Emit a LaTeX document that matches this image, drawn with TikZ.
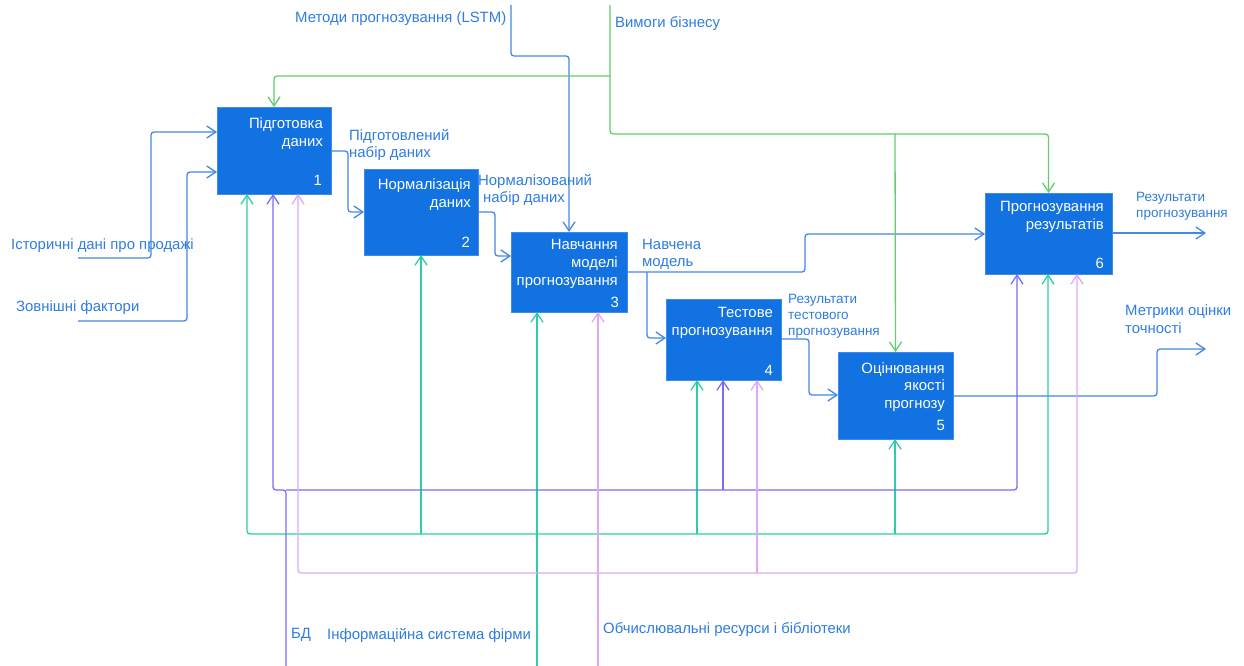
\documentclass[tikz,border=0pt]{standalone}
\usepackage{fontspec}
\setmainfont{Liberation Sans}
\usetikzlibrary{arrows.meta}
\definecolor{boxfill}{HTML}{1272E2}
\definecolor{boxline}{HTML}{3D8CEB}
\definecolor{conblue}{HTML}{4388E6}
\definecolor{txtblue}{HTML}{2F7DE1}
\definecolor{cgreen}{HTML}{63CC70}
\definecolor{cteal}{HTML}{2ECDA7}
\definecolor{cpurple}{HTML}{7C6DF6}
\definecolor{cpink}{HTML}{E0A8F8}
\begin{document}
\begin{tikzpicture}[x=1pt,y=-1pt,
  proc/.style={fill=boxfill, draw=boxline, line width=0.8pt, inner sep=0pt, outer sep=0pt, anchor=north west},
  ptext/.style={text=white, align=right, inner sep=0pt, anchor=north east, font=\fontsize{14.9}{17.8}\selectfont},
  pnum/.style={text=white, inner sep=0pt, anchor=east, font=\fontsize{14.9}{18}\selectfont},
  lab/.style={text=txtblue, align=left, inner sep=0pt, anchor=north west, font=\fontsize{14.9}{17.5}\selectfont},
  slab/.style={text=txtblue, align=left, inner sep=0pt, anchor=north west, font=\fontsize{13.5}{16}\selectfont},
  conn/.style={line width=1.3pt, rounded corners=3pt, -{Straight Barb[length=9pt,width=12pt]}},
  cb/.style={conn, draw=conblue},
  cg/.style={conn, draw=cgreen},
  ct/.style={conn, draw=cteal},
  cp/.style={conn, draw=cpurple},
  ck/.style={conn, draw=cpink}
]
\fill[white] (0,0) rectangle (1244,666);
\useasboundingbox (0,0) rectangle (1244,666);

% boxes
\node[proc, minimum width=114pt, minimum height=87pt] (b1) at (217,107) {};
\node[proc, minimum width=114pt, minimum height=86pt] (b2) at (364,169) {};
\node[proc, minimum width=116pt, minimum height=80pt] (b3) at (511,232) {};
\node[proc, minimum width=115pt, minimum height=81pt] (b4) at (666,299) {};
\node[proc, minimum width=115pt, minimum height=87pt] (b5) at (838,352) {};
\node[proc, minimum width=127pt, minimum height=81pt] (b6) at (985,193) {};

% box texts
\node[ptext] (t1) at (323,118) {Підготовка\\даних};
\node[pnum] (n1) at (322,180) {1};
\node[ptext] (t2) at (471,179) {Нормалізація\\даних};
\node[pnum] (n2) at (470,242) {2};
\node[ptext] (t3) at (618,239) {Навчання\\моделі\\прогнозування};
\node[pnum] (n3) at (619,302) {3};
\node[ptext] (t4) at (773,307) {Тестове\\прогнозування};
\node[pnum] (n4) at (773,370) {4};
\node[ptext] (t5) at (945,362) {Оцінювання\\якості\\прогнозу};
\node[pnum] (n5) at (945,425) {5};
\node[ptext] (t6) at (1104,201) {Прогнозування\\результатів};
\node[pnum] (n6) at (1104,263) {6};

% free ends and junctions
\coordinate (in1) at (78,258);
\coordinate (in2) at (78,321);
\coordinate (ctl1) at (511,5);
\coordinate (ctl2) at (610,5);
\coordinate (m1) at (286,666);
\coordinate (m2) at (537,666);
\coordinate (m3) at (598,666);
\coordinate (out1) at (1206,233);
\coordinate (out2) at (1206,349);
\coordinate (j34) at (647,272);
\coordinate (jg1) at (610,76);
\coordinate (jg5) at (895,134);
\coordinate (jt) at (537,534);
\coordinate (jp) at (286,490);
\coordinate (jk) at (598,573);

% inputs
\draw[cb] (in1) -- (151,258) -- (151,132) -- (b1.west |- 0,132);
\draw[cb] (in2) -- (187,321) -- (187,172) -- (b1.west |- 0,172);
% flows
\draw[cb] (b1.east |- 0,151) -- (348,151) -- (348,212) -- (b2.west |- 0,212);
\draw[cb] (b2.east |- 0,212) -- (495,212) -- (495,256) -- (b3.west |- 0,256);
\draw[cb] (b3.east |- 0,272) -- (805,272) -- (805,234) -- (b6.west |- 0,234);
\draw[cb] (j34) -- (647,338) -- (b4.west |- 0,338);
\draw[cb] (b4.east |- 0,339) -- (809,339) -- (809,395) -- (b5.west |- 0,395);
\draw[cb] (b5.east |- 0,396) -- (1157,396) -- (1157,349) -- (out2);
\draw[cb] (b6.east |- 0,233) -- (out1);

% controls
\draw[cb] (ctl1) -- (511,56) -- (b3.north |- 0,56) -- (b3.north);
\draw[cg] (ctl2) -- (610,134) -- (b6.north |- 0,134) -- (b6.north);
\draw[cg] (jg1) -- (b1.north |- 0,76) -- (b1.north);
\draw[cg] (jg5) -- (b5.north);

% mechanisms: teal
\draw[ct] (m2) -- (b3.south -| 537,0);
\draw[ct] (jt) -- (247,534) -- (b1.south -| 247,0);
\draw[ct] (jt) -- (1048,534) -- (b6.south -| 1048,0);
\draw[ct] (421,534) -- (b2.south -| 421,0);
\draw[ct] (697,534) -- (b4.south -| 697,0);
\draw[ct] (895,534) -- (b5.south -| 895,0);
% purple
\draw[cp] (m1) -- (jp) -- (273,490) -- (b1.south -| 273,0);
\draw[cp] (jp) -- (1017,490) -- (b6.south -| 1017,0);
\draw[cp] (723,490) -- (b4.south -| 723,0);
% pink
\draw[ck] (m3) -- (b3.south -| 598,0);
\draw[ck] (jk) -- (298,573) -- (b1.south -| 298,0);
\draw[ck] (jk) -- (1077,573) -- (b6.south -| 1077,0);
\draw[ck] (757,573) -- (b4.south -| 757,0);

% labels
\node[lab] (lctl1) at (295,12) {Методи прогнозування (LSTM)};
\node[lab] (lctl2) at (615,16) {Вимоги бізнесу};
\node[lab] (lin1) at (11,239) {Історичні дані про продажі};
\node[lab] (lin2) at (16,301) {Зовнішні фактори};
\node[lab] (l12) at (349,129) {Підготовлений\\набір даних};
\node[lab] (l23) at (478,174) {Нормалізований\\\hspace*{5pt}набір даних};
\node[lab] (l3) at (642,239) {Навчена\\модель};
\node[slab] (l45) at (788,294) {Результати\\тестового\\прогнозування};
\node[slab] (lout1) at (1136,192) {Результати\\прогнозування};
\node[lab] (lout2) at (1125,305) {Метрики оцінки\\точності};
\node[lab] (lm1) at (291,628) {БД};
\node[lab] (lm2) at (327,628) {Інформаційна система фірми};
\node[lab] (lm3) at (603,622) {Обчислювальні ресурси і бібліотеки};
\end{tikzpicture}
\end{document}
